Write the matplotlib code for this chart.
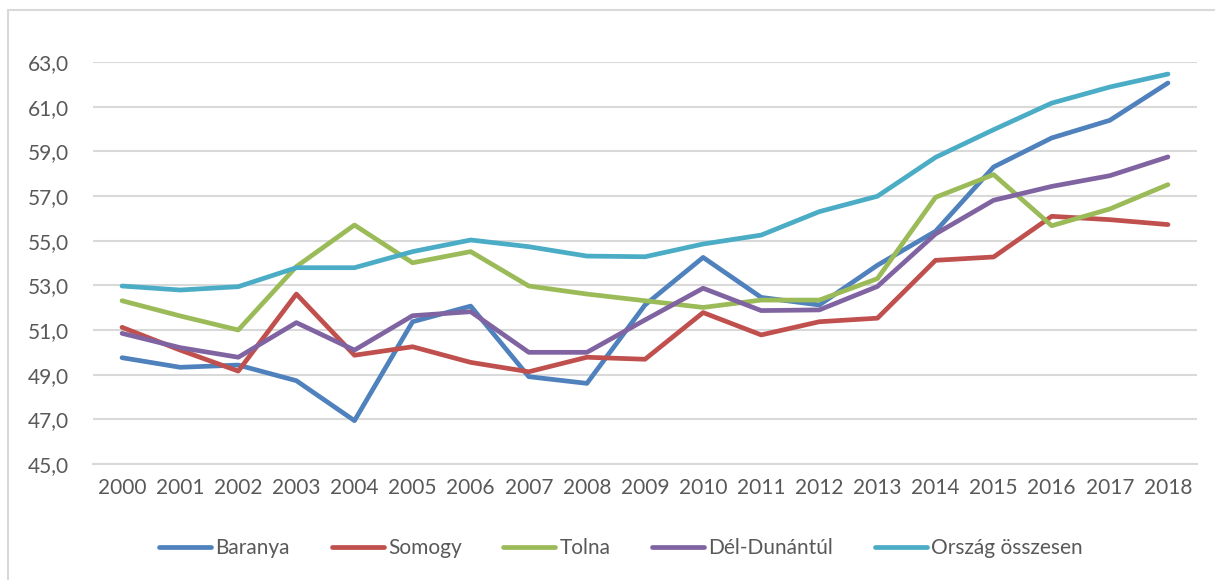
import matplotlib.pyplot as plt
from matplotlib.patches import Rectangle

years = list(range(2000, 2019))

baranya = [49.76, 49.33, 49.43, 48.73, 46.94, 51.37, 52.07, 48.91, 48.61, 52.12,
           54.25, 52.46, 52.12, 53.90, 55.42, 58.30, 59.60, 60.39, 62.06]
somogy = [51.12, 50.10, 49.16, 52.61, 49.87, 50.25, 49.55, 49.13, 49.78, 49.69,
          51.78, 50.78, 51.37, 51.53, 54.12, 54.27, 56.09, 55.94, 55.72]
tolna = [52.31, 51.63, 51.00, 53.84, 55.70, 54.01, 54.51, 52.97, 52.61, 52.31,
         52.01, 52.34, 52.34, 53.30, 56.94, 57.96, 55.67, 56.42, 57.51]
del_dunantul = [50.85, 50.21, 49.78, 51.33, 50.10, 51.64, 51.82, 50.00, 50.00, 51.45,
                52.87, 51.87, 51.90, 52.95, 55.30, 56.81, 57.43, 57.91, 58.75]
orszag = [52.97, 52.79, 52.94, 53.79, 53.79, 54.51, 55.03, 54.73, 54.31, 54.28,
          54.85, 55.25, 56.30, 56.99, 58.73, 59.97, 61.16, 61.88, 62.46]

series = [
    ("Baranya", baranya, "#4F81BD"),
    ("Somogy", somogy, "#C0504D"),
    ("Tolna", tolna, "#9BBB59"),
    ("Dél-Dunántúl", del_dunantul, "#8064A2"),
    ("Ország összesen", orszag, "#4BACC6"),
]

plt.rcParams['font.family'] = ['Lato', 'DejaVu Sans']

fig = plt.figure(figsize=(12.15, 5.8), dpi=100)
ax = fig.add_axes([93 / 1215, 116 / 580, 1104 / 1215, 402 / 580])

# light chart border (only left/top visible in the reference)
fig.patches.append(Rectangle((8 / 1215, -0.1), 1.2, 1 - 10 / 580 + 0.1,
                             transform=fig.transFigure, fill=False,
                             edgecolor="#D9D9D9", linewidth=1.5))

x = list(range(len(years)))
for name, vals, col in series:
    ax.plot(x, vals, color=col, linewidth=3.4, label=name,
            solid_capstyle="round", solid_joinstyle="round")

ax.set_xlim(-0.5, len(years) - 0.5)
ax.set_ylim(45, 63)
ax.set_yticks(range(45, 64, 2))
ax.set_yticklabels([f"{v},0" for v in range(45, 64, 2)])
ax.set_xticks(x)
ax.set_xticklabels([str(y) for y in years])
ax.grid(axis="y", color="#D9D9D9", linewidth=1.5)
ax.set_axisbelow(True)
for s in ["top", "right", "left"]:
    ax.spines[s].set_visible(False)
ax.spines["bottom"].set_color("#D9D9D9")
ax.spines["bottom"].set_linewidth(1.5)
ax.tick_params(length=0, labelsize=15, colors="#595959", pad=10)
ax.tick_params(axis="y", pad=17)

fig.legend(loc="center", bbox_to_anchor=(621 / 1215, 1 - 548 / 580), ncol=5,
           frameon=False, fontsize=15, labelcolor="#595959",
           handlelength=2.5, handletextpad=0.2, columnspacing=2.0)

fig.savefig("out.png", dpi=100)
